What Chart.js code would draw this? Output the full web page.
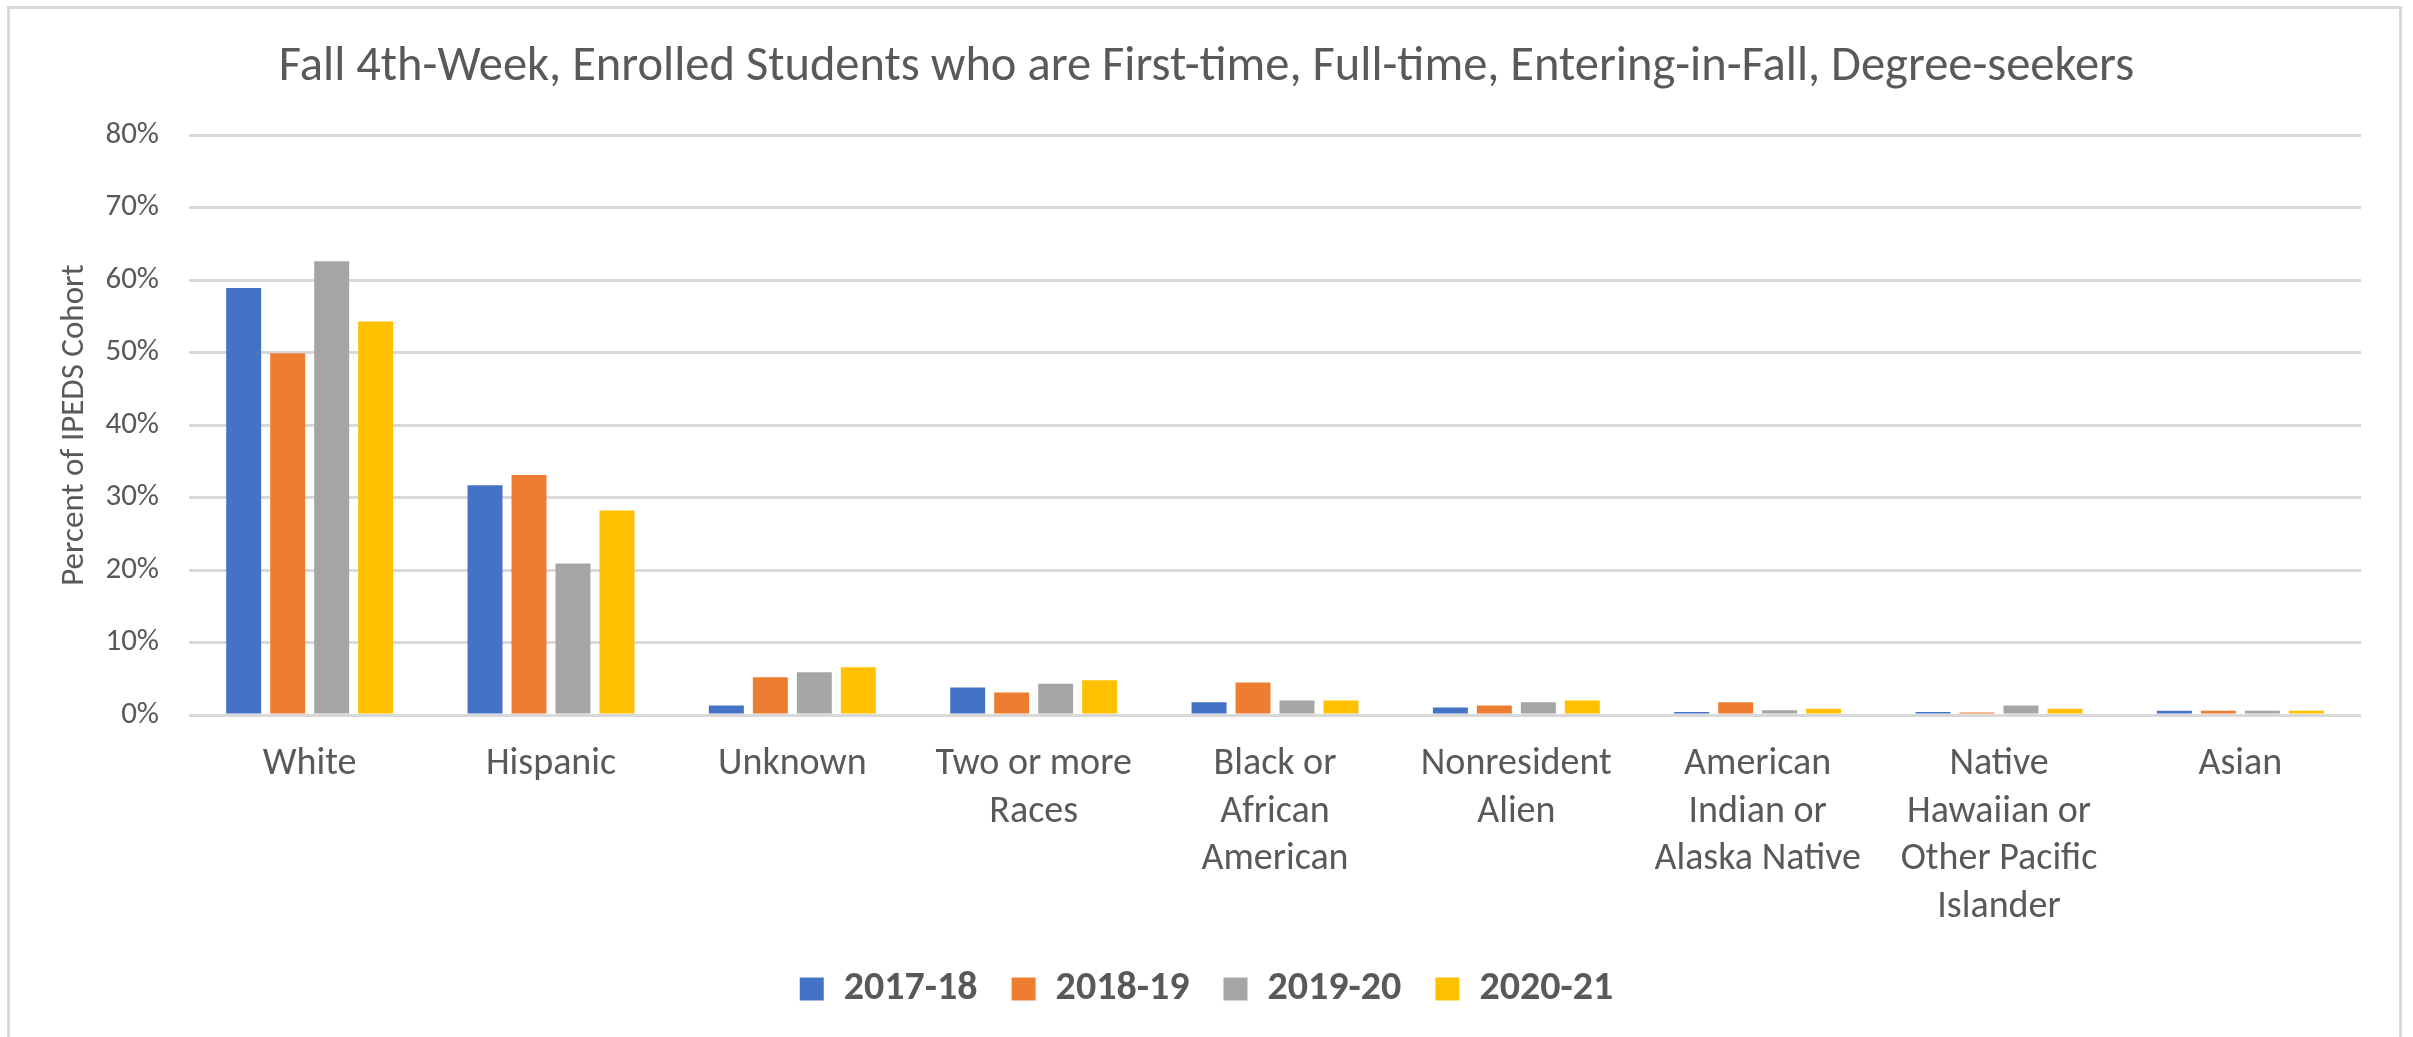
<!DOCTYPE html>
<html lang="en">

<head>
    <meta charset="UTF-8">
    <title>Fall 4th-Week Enrolled Students</title>
    <script src="https://cdn.jsdelivr.net/npm/chart.js@4.4.1/dist/chart.umd.min.js"></script>
</head>

<body>
    <div id="box">
        <canvas id="chartCanvas"></canvas>
    </div>
    <div id="frame"></div>
</body>
<style>
    * {
        margin: 0;
        padding: 0;
    }

    body {
        width: 2413px;
        height: 1037px;
        overflow: hidden;
        background: #ffffff;
    }

    #box {
        position: absolute;
        left: 0;
        top: 0;
        width: 2413px;
        height: 1037px;
    }

    #frame {
        position: absolute;
        left: 7px;
        top: 6px;
        width: 2389px;
        height: 1100px;
        border: 3px solid #d9d9d9;
        border-bottom: none;
    }
</style>

<script>
    const categories = [
        "White",
        "Hispanic",
        "Unknown",
        ["Two or more", "Races"],
        ["Black or", "African", "American"],
        ["Nonresident", "Alien"],
        ["American", "Indian or", "Alaska Native"],
        ["Native", "Hawaiian or", "Other Pacific", "Islander"],
        "Asian"
    ]
    const years = ["2017-18", "2018-19", "2019-20", "2020-21"]
    const y2017 = [58.9, 31.7, 1.3, 3.8, 1.75, 1.05, 0.4, 0.4, 0.6]
    const y2018 = [49.9, 33.1, 5.2, 3.1, 4.5, 1.3, 1.75, 0.35, 0.6]
    const y2019 = [62.6, 20.9, 5.9, 4.3, 2.0, 1.75, 0.65, 1.3, 0.6]
    const y2020 = [54.3, 28.2, 6.6, 4.8, 2.0, 2.0, 0.85, 0.85, 0.6]
    const colors = ["#4472C4", "#ED7D31", "#A5A5A5", "#FFC000"]
    const yTicks = [0, 10, 20, 30, 40, 50, 60, 70, 80]

    const textColor = "#595959"
    const fontName = "Carlito, Calibri, Lato, sans-serif"

    let series = [y2017, y2018, y2019, y2020]
    let datasets = years.map(function (year, i) {
        return {
            label: year,
            data: series[i],
            backgroundColor: colors[i],
            borderWidth: 0,
            categoryPercentage: 0.729,
            barPercentage: 0.795
        }
    })

    let chart = new Chart(document.getElementById("chartCanvas"), {
        type: "bar",
        data: {
            labels: categories,
            datasets: datasets
        },
        options: {
            responsive: true,
            maintainAspectRatio: false,
            animation: false,
            layout: {
                padding: { left: 0, right: 0, top: 0, bottom: 18 }
            },
            plugins: {
                title: {
                    display: true,
                    text: "Fall 4th-Week, Enrolled Students who are First-time, Full-time, Entering-in-Fall, Degree-seekers",
                    color: textColor,
                    font: { family: fontName, size: 48.5, weight: "normal" },
                    padding: { top: 39, bottom: 38 }
                },
                legend: {
                    position: "bottom",
                    labels: {
                        color: textColor,
                        font: { family: fontName, size: 40, weight: "bold" },
                        boxWidth: 24,
                        boxHeight: 23,
                        padding: 34
                    }
                },
                tooltip: { enabled: false }
            },
            scales: {
                x: {
                    afterFit: function (scale) {
                        // keep the legend where it sits in the original
                        scale.height = 220
                    },
                    grid: { display: false, drawTicks: false },
                    border: { display: false },
                    ticks: {
                        color: textColor,
                        font: { family: fontName, size: 38, lineHeight: 1.25 },
                        padding: 26,
                        maxRotation: 0,
                        autoSkip: false
                    }
                },
                y: {
                    min: yTicks[0],
                    max: yTicks[yTicks.length - 1],
                    afterFit: function (scale) {
                        scale.width = 189
                    },
                    afterBuildTicks: function (scale) {
                        scale.ticks = yTicks.map(function (v) { return { value: v } })
                    },
                    grid: { color: "#d9d9d9", lineWidth: 3, drawTicks: false },
                    border: { display: false },
                    ticks: {
                        color: textColor,
                        font: { family: fontName, size: 31 },
                        padding: 30,
                        callback: function (v) { return v + "%" }
                    },
                    title: {
                        display: true,
                        text: "Percent of IPEDS Cohort",
                        color: textColor,
                        font: { family: fontName, size: 33 },
                        padding: { top: 55, bottom: 0 }
                    }
                },
                // empty right margin so the title and legend stay centred on the page
                yRight: {
                    position: "right",
                    afterFit: function (scale) {
                        scale.width = 52
                    },
                    grid: { display: false, drawTicks: false },
                    border: { display: false },
                    ticks: { display: false }
                }
            }
        }
    })
</script>

</html>
